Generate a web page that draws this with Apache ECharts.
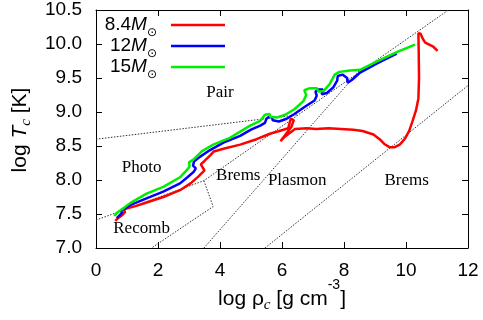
<!DOCTYPE html>
<html>
<head>
<meta charset="utf-8">
<script src="https://cdn.jsdelivr.net/npm/echarts@6/dist/echarts.min.js"></script>
<style>
  html, body { margin: 0; padding: 0; background: #fff; }
  #chart { width: 483px; height: 320px; }
</style>
</head>
<body>
<div id="chart"></div>
<script>
// axis ranges / ticks
const xMin = 0, xMax = 12, xStep = 2;
const yMin = 7, yMax = 10.5, yStep = 0.5;

// central density / temperature tracks, [log rho_c, log T_c]
const massLabels = ["8.4", "12", "15"];
const track84 = [
  [0.62, 7.40], [0.74, 7.45], [0.86, 7.49], [0.94, 7.53], [0.88, 7.56], [0.98, 7.58],
  [1.30, 7.62], [1.63, 7.67], [2.17, 7.75], [2.71, 7.85], [3.05, 7.95], [3.30, 8.05],
  [3.50, 8.14], [3.42, 8.20], [3.38, 8.23], [3.50, 8.28], [3.70, 8.37], [3.80, 8.42],
  [4.11, 8.46], [4.65, 8.52], [5.18, 8.60], [5.61, 8.68], [6.05, 8.74], [6.20, 8.76],
  [6.28, 8.90], [6.38, 8.88], [6.30, 8.78], [5.95, 8.57], [6.10, 8.64], [6.42, 8.75],
  [6.80, 8.76], [7.10, 8.75], [7.50, 8.76], [7.90, 8.75], [8.30, 8.74], [8.60, 8.72],
  [8.95, 8.67], [9.15, 8.60], [9.30, 8.53], [9.48, 8.48], [9.62, 8.48], [9.80, 8.52],
  [9.97, 8.61], [10.10, 8.72], [10.20, 8.85], [10.32, 9.02], [10.40, 9.20], [10.42, 9.50],
  [10.41, 9.90], [10.40, 10.16], [10.47, 10.15], [10.55, 10.07], [10.62, 10.02],
  [10.75, 9.99], [10.88, 9.96], [11.02, 9.90]
];
const track12 = [
  [0.67, 7.44], [0.76, 7.48], [0.84, 7.52], [0.80, 7.55], [0.92, 7.58], [1.10, 7.63],
  [1.63, 7.73], [2.17, 7.83], [2.71, 7.95], [2.95, 8.04], [3.15, 8.12], [3.22, 8.17],
  [3.13, 8.21], [3.16, 8.27], [3.35, 8.34], [3.68, 8.44], [4.11, 8.55], [4.65, 8.65],
  [5.00, 8.74], [5.30, 8.80], [5.45, 8.84], [5.50, 8.90], [5.58, 8.93], [5.68, 8.92],
  [5.70, 8.88], [5.90, 8.86], [6.15, 8.90], [6.40, 8.97], [6.75, 9.08], [7.05, 9.17],
  [7.12, 9.24], [7.08, 9.30], [7.18, 9.33], [7.32, 9.33], [7.28, 9.26], [7.45, 9.28],
  [7.65, 9.36], [7.78, 9.46], [7.80, 9.53], [7.95, 9.55], [8.10, 9.50], [8.12, 9.43],
  [8.25, 9.47], [8.52, 9.58], [9.05, 9.71], [9.70, 9.86]
];
const track15 = [
  [0.59, 7.47], [0.68, 7.52], [0.80, 7.56], [0.90, 7.59], [1.10, 7.66], [1.63, 7.80],
  [2.17, 7.90], [2.71, 8.04], [2.92, 8.14], [3.02, 8.20], [3.00, 8.26], [3.14, 8.30],
  [3.41, 8.42], [3.78, 8.52], [4.32, 8.62], [4.97, 8.80], [5.30, 8.87], [5.40, 8.93],
  [5.45, 8.96], [5.60, 8.97], [5.62, 8.93], [5.85, 8.92], [6.10, 8.96], [6.40, 9.04],
  [6.69, 9.16], [6.78, 9.25], [6.72, 9.32], [6.90, 9.35], [7.12, 9.35], [7.18, 9.30],
  [7.35, 9.31], [7.55, 9.42], [7.70, 9.55], [7.85, 9.59], [8.19, 9.61], [8.52, 9.62],
  [9.05, 9.74], [9.70, 9.88], [10.29, 9.99]
];

// neutrino-process boundaries
const pairBoundary = [[0, 8.60], [6.53, 8.96]];
const photoBoundary = [[0, 7.41], [3.48, 7.99], [11.37, 10.5]];
const recombBoundary = [[3.48, 7.99], [3.78, 7.61], [1.79, 7.0]];
const bremsBoundary = [[3.48, 7.0], [8.52, 9.62]];
const plasmonBoundary = [[5.45, 7.0], [12, 9.39]];

// region names and where they sit, [log rho_c, log T_c]
const regionNames = ["Pair", "Photo", "Brems", "Plasmon", "Brems", "Recomb"];
const regionX = [4.0, 1.47, 4.59, 6.49, 10.02, 1.47];
const regionY = [9.28, 8.19, 8.07, 7.99, 7.99, 7.28];

const colors = ["#ff0000", "#0000ff", "#00ee00"];
const SANS = '"Liberation Sans", Arial, sans-serif';
const SERIF = '"Liberation Serif", "Times New Roman", serif';
const SYM = '"DejaVu Sans", sans-serif';

const chart = echarts.init(document.getElementById("chart"));

// lay out a run of text pieces (for sub/superscripts)
const measure = document.createElement("canvas").getContext("2d");
function fontOf(p) {
  return `${p.italic ? "italic " : ""}${p.size}px ${p.family}`;
}
function textRun(pieces, x0, y0, align) {
  const widths = pieces.map((p) => {
    measure.font = fontOf(p);
    return measure.measureText(p.t).width;
  });
  const total = widths.reduce((a, b) => a + b, 0);
  let x = align === "right" ? x0 - total : align === "center" ? x0 - total / 2 : x0;
  return pieces.map((p, i) => {
    const el = {
      type: "text",
      x: x,
      y: y0 + (p.dy || 0),
      silent: true,
      style: {
        text: p.t,
        font: fontOf(p),
        fill: "#000",
        textAlign: "left",
        textVerticalAlign: "middle"
      }
    };
    x += widths[i];
    return el;
  });
}

const legendRows = [25, 46, 67];
const legendEls = [];
massLabels.forEach((m, i) => {
  legendEls.push(
    ...textRun(
      [
        { t: m, size: 19, family: SANS },
        { t: "M", size: 19, family: SANS, italic: true },
        { t: "\u2299", size: 12, family: SYM, dy: 8 }
      ],
      157, legendRows[i], "right"
    )
  );
  legendEls.push({
    type: "line",
    silent: true,
    shape: { x1: 171, y1: legendRows[i], x2: 225, y2: legendRows[i] },
    style: { stroke: colors[i], lineWidth: 2.5 }
  });
});

const xTitle = textRun(
  [
    { t: "log \u03c1", size: 21, family: SANS },
    { t: "c", size: 15, family: SERIF, italic: true, dy: 6 },
    { t: " [g cm", size: 21, family: SANS },
    { t: "-3", size: 14, family: SANS, dy: -14 },
    { t: "]", size: 21, family: SANS }
  ],
  282, 299, "center"
);

const yTitle = {
  type: "group",
  x: 20,
  y: 130,
  rotation: Math.PI / 2,
  children: textRun(
    [
      { t: "log ", size: 21, family: SANS },
      { t: "T", size: 21, family: SANS, italic: true },
      { t: "c", size: 15, family: SERIF, italic: true, dy: 6 },
      { t: " [K]", size: 21, family: SANS }
    ],
    0, 0, "center"
  )
};

function boundary(data) {
  return {
    type: "line",
    data: data,
    symbol: "none",
    silent: true,
    lineStyle: { color: "#333", width: 1, type: [1.5, 1.5] },
    z: 1
  };
}

function track(data, color) {
  return {
    type: "line",
    data: data,
    symbol: "none",
    silent: true,
    lineStyle: { color: color, width: 2.5 },
    z: 3
  };
}

const tickStyle = { inside: true, length: 6, lineStyle: { color: "#000", width: 1 } };
const axisLineStyle = { show: true, onZero: false, lineStyle: { color: "#000", width: 1 } };

chart.setOption({
  animation: false,
  backgroundColor: "#fff",
  grid: { left: 96, right: 15, top: 10, bottom: 72, outerBoundsMode: "none" },
  xAxis: [
    {
      type: "value", min: xMin, max: xMax, interval: xStep,
      axisLine: axisLineStyle, axisTick: tickStyle, splitLine: { show: false },
      axisLabel: { color: "#000", fontSize: 19, fontFamily: SANS, margin: 13 }
    },
    {
      type: "value", position: "top", min: xMin, max: xMax, interval: xStep,
      axisLine: axisLineStyle, axisTick: tickStyle, splitLine: { show: false },
      axisLabel: { show: false }
    }
  ],
  yAxis: [
    {
      type: "value", min: yMin, max: yMax, interval: yStep,
      axisLine: axisLineStyle, axisTick: tickStyle, splitLine: { show: false },
      axisLabel: {
        color: "#000", fontSize: 19, fontFamily: SANS, margin: 14,
        formatter: (v) => v.toFixed(1)
      }
    },
    {
      type: "value", position: "right", min: yMin, max: yMax, interval: yStep,
      axisLine: axisLineStyle, axisTick: tickStyle, splitLine: { show: false },
      axisLabel: { show: false }
    }
  ],
  series: [
    boundary(pairBoundary),
    boundary(photoBoundary),
    boundary(recombBoundary),
    boundary(bremsBoundary),
    boundary(plasmonBoundary),
    track(track84, colors[0]),
    track(track12, colors[1]),
    track(track15, colors[2]),
    {
      type: "scatter",
      silent: true,
      symbolSize: 1,
      itemStyle: { color: "transparent", opacity: 1 },
      data: regionNames.map((n, i) => ({ name: n, value: [regionX[i], regionY[i]] })),
      label: {
        show: true,
        position: "inside",
        formatter: "{b}",
        color: "#000",
        opacity: 1,
        fontSize: 17,
        fontFamily: SERIF
      },
      z: 4
    }
  ],
  graphic: [...legendEls, ...xTitle, yTitle]
});
</script>
</body>
</html>
